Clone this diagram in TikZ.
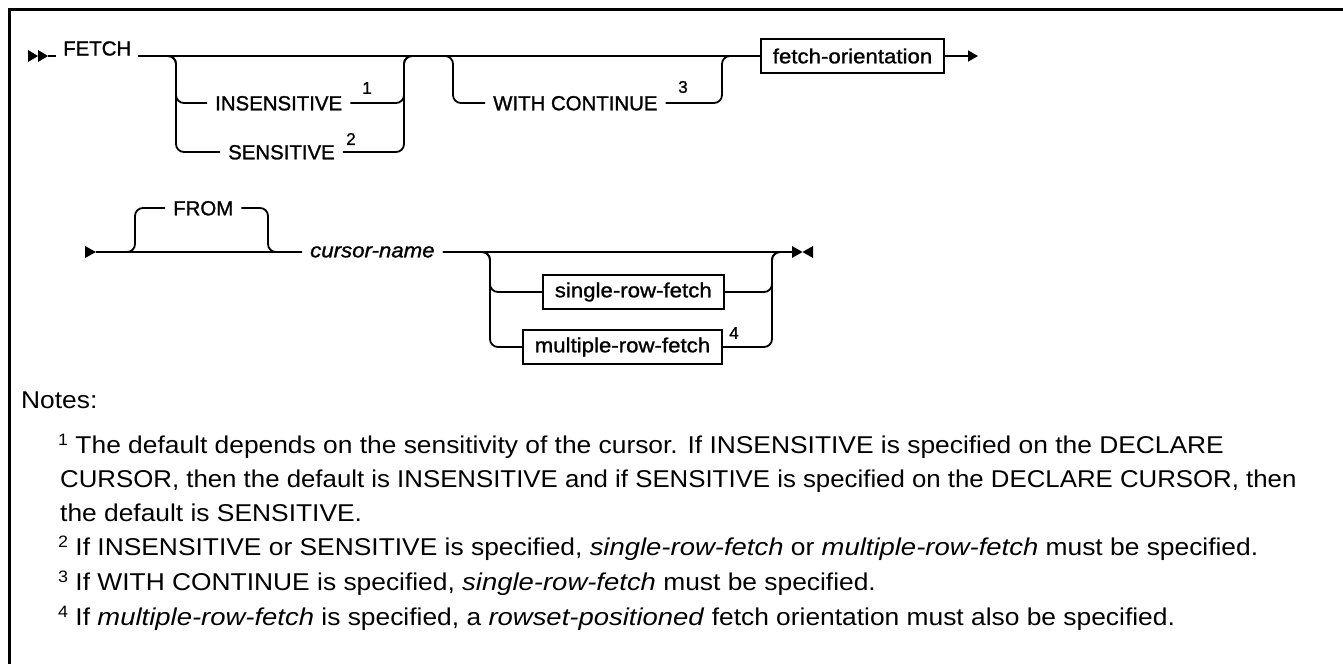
\documentclass[tikz,border=0pt]{standalone}
\usepackage{fontspec}
\setmainfont{Liberation Sans}
\newfontfamily\kwfont{Liberation Sans}[FakeBold=1.2]
\newfontfamily\lowfont{Liberation Sans}[FakeStretch=1.09,FakeBold=1.2]
\newfontfamily\notefont{Liberation Sans}[FakeStretch=1.085,ItalicFeatures={FakeStretch=1.13}]
\newfontfamily\notecapsfont{Liberation Sans}[FakeStretch=1.062]
\usetikzlibrary{calc,arrows.meta}
\newcommand{\nsup}[1]{{\fontsize{16.5}{16}\selectfont\raisebox{8pt}{#1}}}
\begin{document}
\begin{tikzpicture}[x=1pt,y=-1pt,
  rail/.style={line width=1.8pt, rounded corners=8pt},
  kw/.style={font=\kwfont\fontsize{20.4}{24}\selectfont, inner ysep=0pt, inner xsep=8pt, text height=14.6pt, text depth=0pt, anchor=west},
  lw/.style={font=\lowfont\fontsize{20.4}{24}\selectfont\itshape, inner ysep=0pt, inner xsep=8pt, text height=10.6pt, text depth=0pt, anchor=west},
  boxn/.style={draw, line width=1.6pt, font=\lowfont\fontsize{20.4}{24}\selectfont, inner xsep=12pt, inner ysep=0pt, minimum height=34pt},
  supn/.style={font=\kwfont\fontsize{17}{17}\selectfont, inner sep=0pt},
  note/.style={font=\notefont\fontsize{24.3}{30}\selectfont, inner sep=0pt, anchor=base west},
  tri/.style={fill=black}]
\useasboundingbox (0,0) rectangle (1343,664);
% frame
\draw[line width=3pt] (1343,9.5) -- (9.5,9.5) -- (9.5,664);

% ---------- row 1 ----------
\coordinate (s1) at (48,56);
\fill[tri] (28,50) -- (38,56) -- (28,62) -- cycle;
\fill[tri] (38,50) -- (48,56) -- (38,62) -- cycle;
\node[kw, anchor=base west, inner xsep=7pt] (fetch) at (56,55.5) {FETCH};
\coordinate (b1l) at (176,56);
\coordinate (b1r) at (404,56);
\coordinate (b2l) at (453,56);
\coordinate (b2r) at (722,56);
\node[kw] (insens) at (207,103) {INSENSITIVE};
\node[supn] (n1) at (367,88) {1};
\node[kw] (sens) at (220,152) {SENSITIVE};
\node[supn] (n2) at (351,139) {2};
\node[kw] (withc) at (485,103) {WITH CONTINUE};
\node[supn] (n3) at (683,87) {3};
\node[boxn, anchor=west] (forient) at (760,56) {fetch-orientation};
\coordinate (e1) at (978,56);

\draw[rail] (s1) -- (fetch.west |- s1);
\draw[rail] (fetch.east |- s1) -- (forient.west);
\draw[rail] (fetch.east |- s1) -- (b1l) -- (b1l |- insens) -- (insens.west);
\draw[rail] (fetch.east |- s1) -- (b1l) -- (b1l |- sens) -- (sens.west);
\draw[rail] (insens.east) -- (b1r |- insens) -- (b1r) -- (forient.west);
\draw[rail] (sens.east) -- (b1r |- sens) -- (b1r) -- (forient.west);
\draw[rail] (fetch.east |- s1) -- (b2l) -- (b2l |- withc) -- (withc.west);
\draw[rail] (withc.east) -- (b2r |- withc) -- (b2r) -- (forient.west);
\draw[rail, -{Triangle[length=10pt,width=11pt]}] (forient.east) -- (e1);

% ---------- row 2 ----------
\fill[tri] (85,246) -- (96,252) -- (85,258) -- cycle;
\coordinate (s2) at (96,252);
\coordinate (f1) at (135,252);
\coordinate (f2) at (268,252);
\node[kw] (from) at (165,208) {FROM};
\node[lw] (cursor) at (302,252) {cursor-name};
\coordinate (g1) at (490,252);
\coordinate (g2) at (772,252);
\coordinate (e2) at (792,252);
\node[boxn, anchor=west] (single) at (542,292) {single-row-fetch};
\node[boxn, anchor=east] (multiple) at (723,347) {multiple-row-fetch};
\node[supn] (n4) at (734,333) {4};
\fill[tri] (792,246) -- (802.5,252) -- (792,258) -- cycle;
\fill[tri] (813,246) -- (802.5,252) -- (813,258) -- cycle;

\draw[rail] (s2) -- (cursor.west);
\draw[rail] (s2) -- (f1) -- (f1 |- from) -- (from.west);
\draw[rail] (from.east) -- (f2 |- from) -- (f2) -- (cursor.west);
\draw[rail] (cursor.east) -- (e2);
\draw[rail] (cursor.east) -- (g1) -- (g1 |- single) -- (single.west);
\draw[rail] (cursor.east) -- (g1) -- (g1 |- multiple) -- (multiple.west);
\draw[rail] (single.east) -- (g2 |- single) -- (g2) -- (e2);
\draw[rail] (multiple.east) -- (g2 |- multiple) -- (g2) -- (e2);

% ---------- notes ----------
\node[note] (notes) at (21,408) {Notes:};
\node[note] (l1) at (58,453) {\nsup{1} The default depends on the sensitivity of the cursor. If INSENSITIVE is specified on the DECLARE};
\node[note, font=\notecapsfont\fontsize{24.3}{30}\selectfont] (l2) at (60,487) {CURSOR, then the default is INSENSITIVE and if SENSITIVE is specified on the DECLARE CURSOR, then};
\node[note] (l3) at (60,521) {the default is SENSITIVE.};
\node[note] (l4) at (58,555) {\nsup{2} If INSENSITIVE or SENSITIVE is specified, \textit{single-row-fetch} or \textit{multiple-row-fetch} must be specified.};
\node[note] (l5) at (58,590) {\nsup{3} If WITH CONTINUE is specified, \textit{single-row-fetch} must be specified.};
\node[note] (l6) at (58,625) {\nsup{4} If \textit{multiple-row-fetch} is specified, a \textit{rowset-positioned} fetch orientation must also be specified.};
\end{tikzpicture}
\end{document}
